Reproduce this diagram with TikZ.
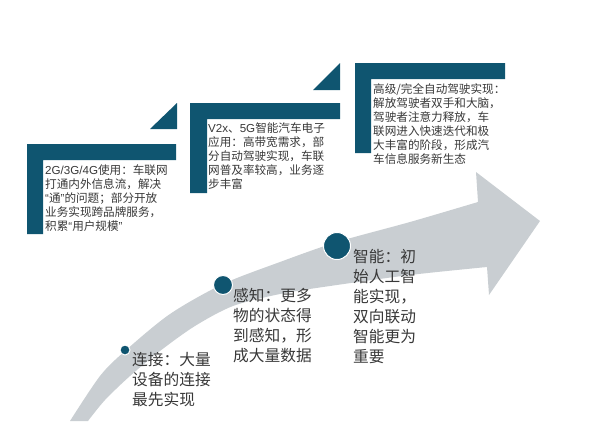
\documentclass[tikz,border=0pt]{standalone}
\usepackage{fontspec}
\setmainfont{Noto Sans CJK SC}
\newfontfamily\latinfont{Liberation Sans}
\newcommand{\lt}[1]{{\latinfont #1}}
\definecolor{bcol}{HTML}{0F5570}
\definecolor{agray}{HTML}{C9CED2}
\definecolor{txtc}{HTML}{383838}
\tikzset{
  bar/.style={fill=bcol},
  smalltxt/.style={anchor=north west, inner sep=0pt, align=left, text=txtc,
    font=\fontsize{11.6}{14}\selectfont},
  bigtxt/.style={anchor=north west, inner sep=0pt, align=left, text=txtc,
    font=\fontsize{15.7}{20}\selectfont},
  dot/.style={circle, fill=bcol, draw=white, line width=1pt, inner sep=0pt}
}
\begin{document}
\begin{tikzpicture}[x=1pt,y=-1pt]
\useasboundingbox (0,0) rectangle (600,421);
% arrow
\fill[agray] plot[smooth] coordinates {(70,421) (100,376) (125,351) (170,314) (223,284) (280,262) (337,242) (410,222) (478,202)}
  -- (476,172) -- (540,221) -- (489,295) -- (487,267)
  -- plot[smooth] coordinates {(487,267) (410,275) (330,286) (280,294) (233,306) (195,326) (160,351) (130,376) (105,400) (88,421)}
  -- cycle;
% brackets
\fill[bar] (27,144) -- (176,144) -- (176,160) -- (43,160) -- (43,234) -- (27,234) -- cycle;
\fill[bar] (150,129) -- (177,103) -- (177,129) -- cycle;
\fill[bar] (190,103) -- (340,103) -- (340,119) -- (207,119) -- (207,193) -- (190,193) -- cycle;
\fill[bar] (313,90) -- (340,63) -- (340,90) -- cycle;
\fill[bar] (355,63) -- (505,63) -- (505,79) -- (371,79) -- (371,153) -- (355,153) -- cycle;
% upper texts
\node[smalltxt] (t1) at (45,164) {\lt{2G/3G/4G}使用：车联网\\打通内外信息流，解决\\\lt{“}通\lt{”}的问题；部分开放\\业务实现跨品牌服务，\\积累\lt{“}用户规模\lt{”}};
\node[smalltxt] (t2) at (208,122) {\lt{V2x}、\lt{5G}智能汽车电子\\应用：高带宽需求，部\\分自动驾驶实现，车联\\网普及率较高，业务逐\\步丰富};
\node[smalltxt] (t3) at (373,83) {高级/完全自动驾驶实现：\\解放驾驶者双手和大脑，\\驾驶者注意力释放，车\\联网进入快速迭代和极\\大丰富的阶段，形成汽\\车信息服务新生态};
% dots
\node[dot, minimum size=10pt] (d1) at (125,350) {};
\node[dot, minimum size=19pt] (d2) at (223,285) {};
\node[dot, minimum size=27pt] (d3) at (337,246) {};
% lower texts
\node[bigtxt] (b1) at (132,352) {连接：大量\\设备的连接\\最先实现};
\node[bigtxt] (b2) at (233,288) {感知：更多\\物的状态得\\到感知，形\\成大量数据};
\node[bigtxt] (b3) at (353,249) {智能：初\\始人工智\\能实现，\\双向联动\\智能更为\\重要};
\end{tikzpicture}
\end{document}
